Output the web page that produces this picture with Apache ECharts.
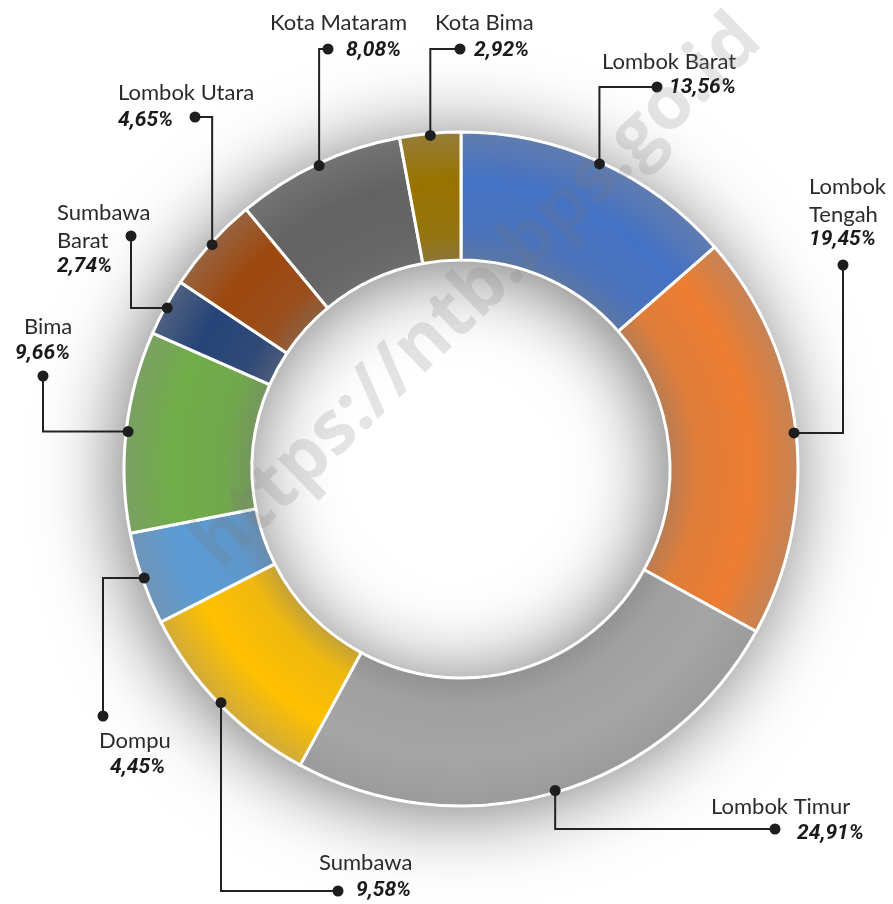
<!DOCTYPE html>
<html>
<head>
<meta charset="utf-8">
<script src="https://cdn.jsdelivr.net/npm/echarts@6/dist/echarts.min.js"></script>
<style>
  html, body { margin: 0; padding: 0; background: #fff; }
  #pie { width: 893px; height: 904px; }
</style>
</head>
<body>
<div id="pie"></div>
<script>
var regions = ['Lombok Barat', 'Lombok Tengah', 'Lombok Timur', 'Sumbawa', 'Dompu',
  'Bima', 'Sumbawa Barat', 'Lombok Utara', 'Kota Mataram', 'Kota Bima'];
var shares = [13.56, 19.45, 24.91, 9.58, 4.45, 9.66, 2.74, 4.65, 8.08, 2.92];

var colors = ['#4472C4', '#ED7D31', '#A5A5A5', '#FFC000', '#5B9BD5',
  '#70AD47', '#264478', '#9E480E', '#636363', '#997300'];

// ring geometry
var cx = 461, cy = 469, rIn = 209, rOut = 337;

// where each leader line ends and where its texts sit
// turn: 'v' = go vertical first, 'h' = go horizontal first
var notes = [
  { end: [657, 87], turn: 'v', name: [602, 62], pct: [669, 88] },
  { end: [843, 265], turn: 'h', name: [809, 187], pct: [809, 240], wrap: true },
  { end: [775, 829], turn: 'v', name: [711, 807], pct: [797, 834] },
  { end: [338, 891], turn: 'v', name: [319, 863], pct: [356, 891] },
  { end: [103, 716], turn: 'h', name: [99, 741], pct: [110, 768] },
  { end: [43, 376], turn: 'h', name: [24, 327], pct: [15, 354] },
  { end: [131, 236], turn: 'h', name: [57, 213], pct: [57, 267], wrap: true },
  { end: [195, 117], turn: 'v', name: [118, 93], pct: [118, 121] },
  { end: [328, 49], turn: 'v', name: [270, 23], pct: [346, 51] },
  { end: [460, 49], turn: 'v', name: [435, 23], pct: [474, 51] }
];

function mix(hex, other, t) {
  var a = parseInt(hex.slice(1), 16), b = parseInt(other.slice(1), 16);
  var r = Math.round(((a >> 16) & 255) * (1 - t) + ((b >> 16) & 255) * t);
  var g = Math.round(((a >> 8) & 255) * (1 - t) + ((b >> 8) & 255) * t);
  var bl = Math.round((a & 255) * (1 - t) + (b & 255) * t);
  return 'rgb(' + r + ',' + g + ',' + bl + ')';
}

function shade(c) {
  var k = rIn / rOut;
  return new echarts.graphic.RadialGradient(cx, cy, rOut, [
    { offset: k, color: mix(c, '#7a7a7a', 0.45) },
    { offset: k + 0.08, color: mix(c, '#7a7a7a', 0.12) },
    { offset: 0.86, color: c },
    { offset: 1, color: mix(c, '#8c8c8c', 0.4) }
  ], true);
}

var pieData = regions.map(function (name, i) {
  return { name: name, value: shares[i], itemStyle: { color: shade(colors[i]) } };
});

// leader lines, dots and texts
var total = shares.reduce(function (s, v) { return s + v; }, 0);
var graphics = [];
var acc = 0;
shares.forEach(function (v, i) {
  var ang = (acc + v / 2) / total * Math.PI * 2;
  acc += v;
  var sx = cx + (rOut - 2) * Math.sin(ang);
  var sy = cy - (rOut - 2) * Math.cos(ang);
  var n = notes[i];
  var mid = n.turn === 'v' ? [sx, n.end[1]] : [n.end[0], sy];
  graphics.push({
    type: 'polyline', z: 10,
    shape: { points: [[sx, sy], mid, n.end] },
    style: { stroke: '#222', lineWidth: 2, fill: null }
  });
  graphics.push({ type: 'circle', z: 11, shape: { cx: sx, cy: sy, r: 5.5 }, style: { fill: '#1e1e1e' } });
  graphics.push({ type: 'circle', z: 11, shape: { cx: n.end[0], cy: n.end[1], r: 5.5 }, style: { fill: '#1e1e1e' } });
  var label = n.wrap ? regions[i].replace(' ', '\n') : regions[i];
  graphics.push({
    type: 'text', z: 12, x: n.name[0], y: n.name[1] - 14,
    style: {
      text: label, fill: '#2b2b2b', font: '22px Lato, sans-serif',
      lineHeight: 28, align: 'left', verticalAlign: 'top'
    }
  });
  graphics.push({
    type: 'text', z: 12, x: n.pct[0], y: n.pct[1],
    style: {
      text: v.toFixed(2).replace('.', ',') + '%', fill: '#1a1a1a',
      font: 'italic bold 21px Roboto, sans-serif',
      align: 'left', verticalAlign: 'middle'
    }
  });
});

// faint watermark across the ring
graphics.push({
  type: 'text', z: 20, x: 478, y: 292, rotation: 0.77, silent: true,
  style: {
    text: 'https://ntb.bps.go.id', fill: 'rgba(120,120,120,0.2)',
    font: 'bold 74px "Open Sans", sans-serif', align: 'center', verticalAlign: 'middle'
  }
});

var pieCharts = echarts.init(document.getElementById('pie'));
pieCharts.setOption({
  backgroundColor: '#fff',
  animation: false,
  series: [
    {
      // soft shadow under the ring
      type: 'pie', silent: true, z: 1,
      center: [cx, cy], radius: [rIn, rOut],
      label: { show: false }, labelLine: { show: false },
      data: [{ value: 1, itemStyle: { color: '#b5b5b5', shadowBlur: 80, shadowColor: 'rgba(0,0,0,0.55)', shadowOffsetX: -6, shadowOffsetY: 6 } }]
    },
    {
      type: 'pie', z: 2,
      center: [cx, cy], radius: [rIn, rOut],
      startAngle: 90, clockwise: true,
      label: { show: false }, labelLine: { show: false },
      emphasis: { disabled: true },
      itemStyle: { borderColor: '#fff', borderWidth: 3 },
      data: pieData
    }
  ],
  graphic: graphics
});
</script>
</body>
</html>
